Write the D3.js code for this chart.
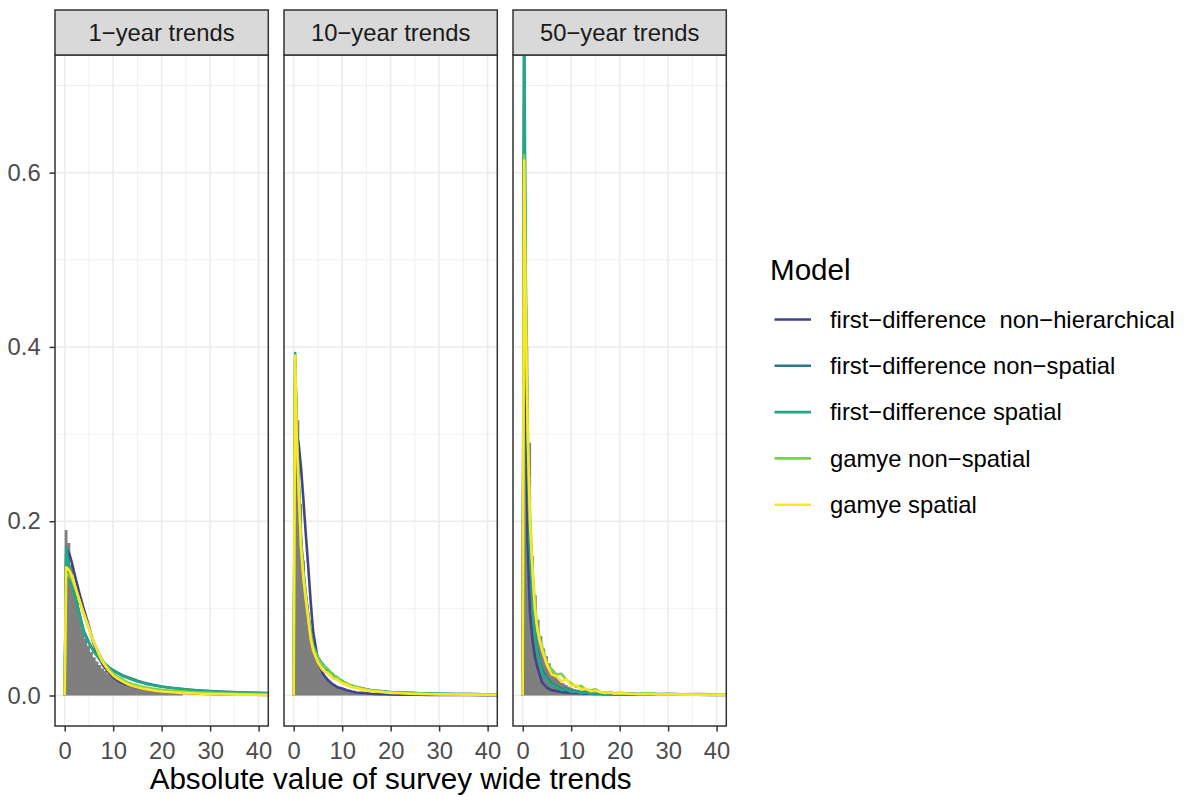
<!DOCTYPE html>
<html>
<head>
<meta charset="utf-8">
<script src="https://cdn.jsdelivr.net/npm/d3@7"></script>
<style>
  body { margin: 0; background: #fff; }
  text { font-family: "Liberation Sans", Arial, Helvetica, sans-serif; }
</style>
</head>
<body>
<svg id="chart" width="1186" height="797"></svg>
<script>
// facets and models
const panels = ["1\u2212year trends", "10\u2212year trends", "50\u2212year trends"];
const models = [
  "first\u2212difference  non\u2212hierarchical",
  "first\u2212difference non\u2212spatial",
  "first\u2212difference spatial",
  "gamye non\u2212spatial",
  "gamye spatial",
];
const modelColors = ["#414487", "#2A788E", "#22A884", "#7AD151", "#FDE725"];

// x positions where the model density lines are read
const xs = [0, 0.3, 0.6, 1, 1.5, 2, 2.5, 3, 3.5, 4, 5, 6, 7, 8, 9, 10, 11, 12, 13, 14,
  15, 16, 17, 18, 19, 20, 22, 24, 26, 28, 30, 33, 36, 39, 42];

// 1-year trends
const fdNonHier1 = [0, 0.150, 0.166, 0.162, 0.152, 0.140, 0.129, 0.118, 0.108, 0.098, 0.079, 0.059, 0.044, 0.034, 0.027, 0.021, 0.017, 0.014, 0.012, 0.0105, 0.009, 0.008, 0.007, 0.006, 0.0053, 0.0047, 0.0038, 0.0030, 0.0025, 0.0020, 0.0017, 0.0013, 0.0010, 0.0008, 0.0006];
const fdNonSpat1 = [0, 0.162, 0.155, 0.142, 0.129, 0.118, 0.107, 0.095, 0.084, 0.073, 0.061, 0.051, 0.044, 0.038, 0.033, 0.029, 0.026, 0.023, 0.021, 0.019, 0.017, 0.0152, 0.0138, 0.0125, 0.0114, 0.0104, 0.0088, 0.0076, 0.0066, 0.0058, 0.0051, 0.0043, 0.0036, 0.0031, 0.0027];
const fdSpat1 = [0, 0.170, 0.158, 0.142, 0.128, 0.117, 0.106, 0.094, 0.082, 0.071, 0.060, 0.050, 0.043, 0.037, 0.032, 0.028, 0.025, 0.022, 0.020, 0.018, 0.016, 0.0145, 0.013, 0.012, 0.011, 0.010, 0.0086, 0.0074, 0.0064, 0.0056, 0.0049, 0.0041, 0.0035, 0.0030, 0.0026];
const gamNonSpat1 = [0, 0.140, 0.139, 0.137, 0.133, 0.126, 0.118, 0.110, 0.101, 0.093, 0.077, 0.062, 0.049, 0.039, 0.031, 0.025, 0.021, 0.018, 0.015, 0.013, 0.0115, 0.010, 0.009, 0.008, 0.0072, 0.0065, 0.0055, 0.0047, 0.0040, 0.0034, 0.0030, 0.0025, 0.0020, 0.0017, 0.0014];
const gamSpat1 = [0, 0.147, 0.146, 0.143, 0.137, 0.128, 0.119, 0.110, 0.101, 0.093, 0.077, 0.061, 0.048, 0.037, 0.029, 0.023, 0.019, 0.016, 0.013, 0.011, 0.0095, 0.008, 0.007, 0.006, 0.0052, 0.0046, 0.0037, 0.0030, 0.0025, 0.0020, 0.0017, 0.0013, 0.0010, 0.0008, 0.0006];

// 10-year trends
const fdNonHier10 = [0, 0.300, 0.300, 0.290, 0.262, 0.225, 0.185, 0.148, 0.108, 0.074, 0.040, 0.025, 0.018, 0.013, 0.0096, 0.008, 0.006, 0.0045, 0.0035, 0.003, 0.0025, 0.002, 0.0018, 0.0016, 0.0014, 0.0012, 0.001, 0.0009, 0.0008, 0.0007, 0.0006, 0.0005, 0.0005, 0.0004, 0.0004];
const fdNonSpat10 = [0, 0.385, 0.310, 0.250, 0.182, 0.142, 0.116, 0.093, 0.073, 0.059, 0.044, 0.035, 0.030, 0.024, 0.020, 0.016, 0.013, 0.011, 0.0095, 0.008, 0.007, 0.006, 0.0055, 0.005, 0.0045, 0.004, 0.0035, 0.003, 0.0026, 0.0023, 0.002, 0.0018, 0.0016, 0.0014, 0.0013];
const fdSpat10 = [0, 0.393, 0.312, 0.248, 0.178, 0.138, 0.114, 0.091, 0.071, 0.057, 0.042, 0.036, 0.028, 0.025, 0.019, 0.017, 0.012, 0.0115, 0.009, 0.0085, 0.0065, 0.006, 0.005, 0.0048, 0.004, 0.0038, 0.0033, 0.0028, 0.0025, 0.0022, 0.002, 0.0018, 0.0016, 0.0014, 0.0013];
const gamNonSpat10 = [0, 0.385, 0.305, 0.245, 0.175, 0.138, 0.113, 0.090, 0.069, 0.056, 0.043, 0.034, 0.031, 0.024, 0.021, 0.016, 0.014, 0.011, 0.010, 0.008, 0.0072, 0.006, 0.0055, 0.0048, 0.0042, 0.0038, 0.0032, 0.0027, 0.0024, 0.002, 0.0018, 0.0015, 0.0013, 0.0012, 0.0011];
const gamSpat10 = [0, 0.390, 0.300, 0.240, 0.170, 0.135, 0.110, 0.088, 0.065, 0.052, 0.038, 0.029, 0.026, 0.020, 0.018, 0.014, 0.012, 0.0095, 0.0085, 0.007, 0.006, 0.005, 0.0045, 0.004, 0.0035, 0.003, 0.0025, 0.002, 0.0018, 0.0015, 0.0013, 0.0011, 0.001, 0.0009, 0.0008];

// 50-year trends
const fdNonHier50 = [0, 0.68, 0.40, 0.18, 0.095, 0.065, 0.045, 0.033, 0.024, 0.015, 0.009, 0.006, 0.005, 0.004, 0.0035, 0.003, 0.0028, 0.0025, 0.0022, 0.002, 0.0018, 0.0017, 0.0015, 0.0014, 0.0013, 0.0012, 0.0011, 0.001, 0.001, 0.0009, 0.0009, 0.0008, 0.0008, 0.0007, 0.0007];
const fdNonSpat50 = [0, 0.74, 0.46, 0.29, 0.165, 0.11, 0.075, 0.053, 0.040, 0.030, 0.020, 0.013, 0.011, 0.007, 0.008, 0.005, 0.0055, 0.004, 0.0045, 0.003, 0.0035, 0.0025, 0.003, 0.002, 0.0025, 0.002, 0.0022, 0.0018, 0.002, 0.0016, 0.0018, 0.0015, 0.0016, 0.0014, 0.0015];
const fdSpat50 = [0, 0.80, 0.50, 0.30, 0.17, 0.105, 0.07, 0.05, 0.038, 0.026, 0.018, 0.012, 0.010, 0.006, 0.007, 0.004, 0.0045, 0.003, 0.0035, 0.002, 0.0025, 0.002, 0.0022, 0.0018, 0.002, 0.0016, 0.0018, 0.0015, 0.0017, 0.0014, 0.0016, 0.0014, 0.0015, 0.0013, 0.0014];
const gamNonSpat50 = [0, 0.62, 0.46, 0.32, 0.21, 0.15, 0.105, 0.08, 0.066, 0.056, 0.037, 0.030, 0.024, 0.025, 0.018, 0.014, 0.010, 0.011, 0.007, 0.006, 0.007, 0.004, 0.0035, 0.004, 0.0025, 0.003, 0.0022, 0.002, 0.0024, 0.0015, 0.0018, 0.0014, 0.0015, 0.0012, 0.0012];
const gamSpat50 = [0, 0.614, 0.45, 0.31, 0.20, 0.145, 0.10, 0.076, 0.062, 0.052, 0.035, 0.024, 0.022, 0.016, 0.019, 0.011, 0.012, 0.007, 0.008, 0.005, 0.0055, 0.004, 0.003, 0.0035, 0.002, 0.0025, 0.002, 0.0015, 0.0018, 0.0012, 0.0015, 0.001, 0.0012, 0.0009, 0.001];

// grey histogram (density), bins start at 0
const binWidth = 0.58;
const hist1 = [0.190, 0.175, 0.150, 0.127, 0.107, 0.090, 0.076, 0.065, 0.057, 0.050, 0.044, 0.039, 0.035, 0.031, 0.028, 0.025, 0.0225, 0.020, 0.018, 0.0165, 0.015, 0.0135, 0.0122, 0.011, 0.010, 0.0092, 0.0085, 0.0079, 0.0073, 0.0068, 0.0063, 0.0059, 0.0055, 0.0051, 0.0048, 0.0045, 0.0042, 0.0039, 0.0037, 0.0035, 0.0033, 0.0031];
const hist10 = [0.358, 0.316, 0.220, 0.155, 0.110, 0.083, 0.065, 0.051, 0.040, 0.032, 0.026, 0.021, 0.018, 0.015, 0.0125, 0.0105, 0.009, 0.0076, 0.0065, 0.0056, 0.0049, 0.0043, 0.0038, 0.0034, 0.003, 0.0027, 0.0024, 0.0022, 0.002, 0.0018, 0.0017, 0.0016, 0.0015, 0.0014, 0.0013, 0.0012, 0.0011, 0.001, 0.001, 0.0009, 0.0009, 0.0008];
const hist50 = [0.62, 0.40, 0.29, 0.16, 0.115, 0.087, 0.068, 0.054, 0.045, 0.037, 0.030, 0.025, 0.020, 0.017, 0.014, 0.012, 0.010, 0.0085, 0.0072, 0.0062, 0.0054, 0.0047, 0.0041, 0.0036, 0.0032, 0.0029, 0.0026, 0.0024, 0.0022, 0.002, 0.0019, 0.0018, 0.0017, 0.0024, 0.0028, 0.0016, 0.0015, 0.0014, 0.0021, 0.0013, 0.0012, 0.0012];

const xTicks = [0, 10, 20, 30, 40];
const xMinor = [5, 15, 25, 35];
const yTicks = [0, 0.2, 0.4, 0.6];
const yMinor = [0.1, 0.3, 0.5, 0.7];

const lineData = [
  [fdNonHier1, fdNonSpat1, fdSpat1, gamNonSpat1, gamSpat1],
  [fdNonHier10, fdNonSpat10, fdSpat10, gamNonSpat10, gamSpat10],
  [fdNonHier50, fdNonSpat50, fdSpat50, gamNonSpat50, gamSpat50],
];
const histData = [hist1, hist10, hist50];

/* layout */
const panelLeft = [55, 284, 513],
  panelW = 213.3,
  panelTop = 55,
  panelBottom = 726,
  stripTop = 10;
const small = 23.8, big = 29.6;
const border = "#333333", gridCol = "#EBEBEB";

const svg = d3.select("#chart");

const y = d3.scaleLinear().domain([-0.035, 0.735]).range([panelBottom, panelTop]);

panels.forEach((name, p) => {
  const x = d3.scaleLinear().domain([-2, 42]).range([panelLeft[p], panelLeft[p] + panelW]);
  const g = svg.append("g").attr("class", "panel");

  g.append("clipPath").attr("id", "clip" + p)
    .append("rect")
    .attr("x", panelLeft[p]).attr("y", panelTop)
    .attr("width", panelW).attr("height", panelBottom - panelTop);

  // grid
  g.selectAll("line.ymin").data(yMinor).join("line")
    .attr("x1", panelLeft[p]).attr("x2", panelLeft[p] + panelW)
    .attr("y1", (d) => y(d)).attr("y2", (d) => y(d))
    .attr("stroke", gridCol).attr("stroke-width", 0.75);
  g.selectAll("line.xmin").data(xMinor).join("line")
    .attr("y1", panelTop).attr("y2", panelBottom)
    .attr("x1", (d) => x(d)).attr("x2", (d) => x(d))
    .attr("stroke", gridCol).attr("stroke-width", 0.75);
  g.append("g").selectAll("line").data(yTicks).join("line")
    .attr("x1", panelLeft[p]).attr("x2", panelLeft[p] + panelW)
    .attr("y1", (d) => y(d)).attr("y2", (d) => y(d))
    .attr("stroke", gridCol).attr("stroke-width", 1.5);
  g.append("g").selectAll("line").data(xTicks).join("line")
    .attr("y1", panelTop).attr("y2", panelBottom)
    .attr("x1", (d) => x(d)).attr("x2", (d) => x(d))
    .attr("stroke", gridCol).attr("stroke-width", 1.5);

  const plot = g.append("g").attr("clip-path", `url(#clip${p})`);

  // histogram as a step area
  const h = histData[p];
  const steps = h.map((v, i) => ({ x: i * binWidth, y: v }));
  steps.push({ x: h.length * binWidth, y: h[h.length - 1] });
  plot.append("path")
    .datum(steps)
    .attr("fill", "#7F7F7F")
    .attr("d", d3.area().curve(d3.curveStepAfter)
      .x((d) => x(d.x)).y0(y(0)).y1((d) => y(d.y)));

  // model lines
  const line = d3.line().x((d) => x(d[0])).y((d) => y(d[1]));
  plot.selectAll("path.model")
    .data(lineData[p])
    .join("path")
    .attr("class", "model")
    .attr("fill", "none")
    .attr("stroke", (d, i) => modelColors[i])
    .attr("stroke-width", 2.6)
    .attr("stroke-linejoin", "round")
    .attr("d", (vals) => line(vals.map((v, i) => [xs[i], v])));

  // border
  g.append("rect")
    .attr("x", panelLeft[p]).attr("y", panelTop)
    .attr("width", panelW).attr("height", panelBottom - panelTop)
    .attr("fill", "none").attr("stroke", border).attr("stroke-width", 1.5);

  // strip
  g.append("rect")
    .attr("x", panelLeft[p]).attr("y", stripTop)
    .attr("width", panelW).attr("height", panelTop - stripTop)
    .attr("fill", "#D9D9D9").attr("stroke", border).attr("stroke-width", 1.5);
  g.append("text")
    .attr("x", panelLeft[p] + panelW / 2).attr("y", (stripTop + panelTop) / 2)
    .attr("text-anchor", "middle").attr("dy", "0.35em")
    .attr("font-size", small).attr("fill", "#1A1A1A")
    .text(name);

  // x axis
  const xa = g.append("g")
    .attr("transform", `translate(0,${panelBottom})`)
    .call(d3.axisBottom(x).tickValues(xTicks).tickSize(5.5).tickPadding(10.5));
  xa.select(".domain").remove();
  xa.selectAll(".tick line").attr("stroke", border).attr("stroke-width", 1.5);
  xa.selectAll(".tick text").attr("font-size", small).attr("fill", "#4D4D4D")
    .attr("font-family", null);

  if (p === 0) {
    const ya = g.append("g")
      .attr("transform", `translate(${panelLeft[0]},0)`)
      .call(d3.axisLeft(y).tickValues(yTicks).tickFormat(d3.format(".1f"))
        .tickSize(5.5).tickPadding(8.8));
    ya.select(".domain").remove();
    ya.selectAll(".tick line").attr("stroke", border).attr("stroke-width", 1.5);
    ya.selectAll(".tick text").attr("font-size", small).attr("fill", "#4D4D4D")
      .attr("font-family", null);
  }
});

// axis title
svg.append("text")
  .attr("x", (panelLeft[0] + panelLeft[2] + panelW) / 2).attr("y", 789)
  .attr("text-anchor", "middle").attr("font-size", big).attr("fill", "#000")
  .text("Absolute value of survey wide trends");

// legend
const legend = svg.append("g").attr("class", "legend");
legend.append("text")
  .attr("x", 770).attr("y", 280)
  .attr("font-size", big).attr("fill", "#000")
  .text("Model");
const keyY = (i) => 319.5 + i * 46.3;
legend.selectAll("line.key").data(models).join("line")
  .attr("x1", 774.5).attr("x2", 811)
  .attr("y1", (d, i) => keyY(i)).attr("y2", (d, i) => keyY(i))
  .attr("stroke", (d, i) => modelColors[i]).attr("stroke-width", 2.6);
legend.selectAll("text.label").data(models).join("text")
  .attr("class", "label")
  .attr("x", 830).attr("y", (d, i) => keyY(i))
  .attr("dy", "0.35em")
  .attr("font-size", small).attr("fill", "#000")
  .style("white-space", "pre")
  .text((d) => d);
</script>
</body>
</html>
